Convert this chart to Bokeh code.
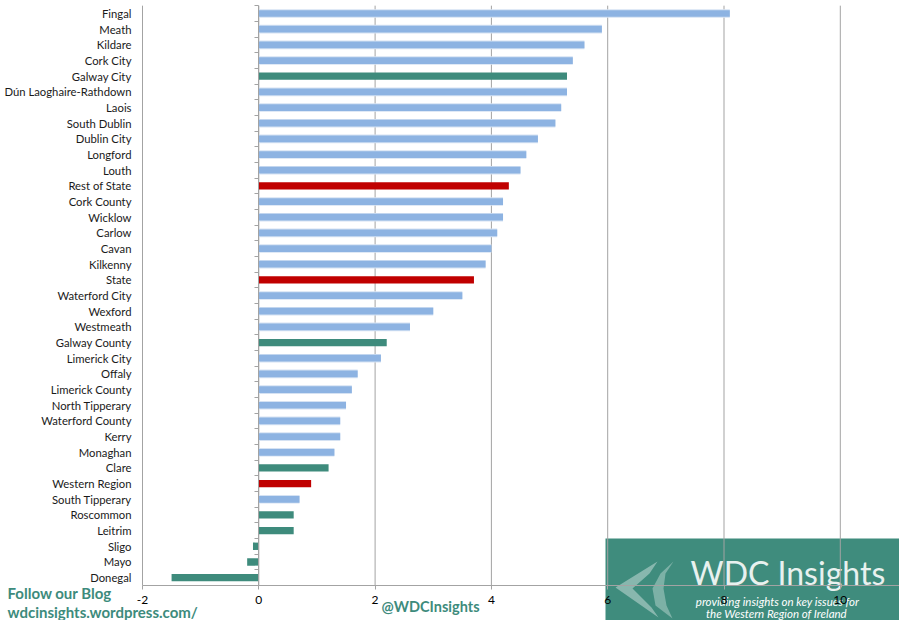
from bokeh.plotting import figure
from bokeh.models import (Range1d, FixedTicker, BoxAnnotation, Label, PolyAnnotation,
                          ColumnDataSource, LinearAxis)
from bokeh.embed import file_html
from bokeh.resources import INLINE

categories = ["Fingal", "Meath", "Kildare", "Cork City", "Galway City",
              "Dún Laoghaire-Rathdown", "Laois", "South Dublin", "Dublin City",
              "Longford", "Louth", "Rest of State", "Cork County", "Wicklow",
              "Carlow", "Cavan", "Kilkenny", "State", "Waterford City", "Wexford",
              "Westmeath", "Galway County", "Limerick City", "Offaly",
              "Limerick County", "North Tipperary", "Waterford County", "Kerry",
              "Monaghan", "Clare", "Western Region", "South Tipperary",
              "Roscommon", "Leitrim", "Sligo", "Mayo", "Donegal"]
values = [8.1, 5.9, 5.6, 5.4, 5.3, 5.3, 5.2, 5.1, 4.8, 4.6, 4.5, 4.3, 4.2, 4.2,
          4.1, 4.0, 3.9, 3.7, 3.5, 3.0, 2.6, 2.2, 2.1, 1.7, 1.6, 1.5, 1.4, 1.4,
          1.3, 1.2, 0.9, 0.7, 0.6, 0.6, -0.1, -0.2, -1.5]
western = ["Galway City", "Galway County", "Clare", "Roscommon", "Leitrim",
           "Sligo", "Mayo", "Donegal"]
totals = ["Rest of State", "State", "Western Region"]
x_ticks = [-2, 0, 2, 4, 6, 8, 10]

BLUE, BLUE_HALO, GREEN, RED = "#8DB3E2", "#D5E2F3", "#3E8B7C", "#C00000"
GRID = "#A3A3A3"
TEAL_TXT = "#3D8B7C"

W, H = 899, 620
N = len(categories)

# layout geometry (pixels in the canvas)
PX_X = 58.15          # pixels per x unit
X_LEFT_PX = 142       # canvas x of value -2
ROW_PX = 15.67        # pixels per category row
TOP_ROW_PX = 13       # canvas y of first row centre

x_start = -2 - X_LEFT_PX / PX_X
x_end = -2 + (W - X_LEFT_PX) / PX_X
y_end = (N - 1) + TOP_ROW_PX / ROW_PX
y_start = y_end - H / ROW_PX

p = figure(width=W, height=H, output_backend="svg", toolbar_location=None,
           x_range=Range1d(x_start, x_end), y_range=Range1d(y_start, y_end),
           min_border=0)
p.outline_line_color = None
p.background_fill_color = None
p.border_fill_color = "white"
p.xgrid.grid_line_color = None
p.ygrid.grid_line_color = None


def sx(rx):
    return rx


def sy(ry):
    return H - ry


# logo background (under everything)
p.add_layout(BoxAnnotation(left=sx(605), right=W, top=sy(538), bottom=0,
                           left_units="screen", right_units="screen",
                           top_units="screen", bottom_units="screen",
                           fill_color="#3F8C7D", fill_alpha=1.0, line_color=None,
                           level="image"))
chev_a = [(615, 587), (657, 561), (649, 573), (632, 588), (651, 607), (658, 617)]
chev_b = [(673, 561), (660, 573), (652, 588), (655, 605), (672, 618), (666, 605),
          (663, 588), (665, 573)]
for poly, a in ((chev_a, 0.38), (chev_b, 0.32)):
    p.add_layout(PolyAnnotation(xs=[sx(x) for x, _ in poly], ys=[sy(y) for _, y in poly],
                                xs_units="screen", ys_units="screen",
                                fill_color="white", fill_alpha=a, line_color=None,
                                level="image"))

# vertical gridlines
bottom_edge = -0.5
p.segment(x0=x_ticks, x1=x_ticks, y0=[bottom_edge] * len(x_ticks),
          y1=[N - 0.5] * len(x_ticks), line_color=GRID, line_width=1)

# x axis at the bottom of the bars
xa = p.xaxis[0]
xa.fixed_location = bottom_edge
xa.bounds = (-2, x_end)
xa.ticker = FixedTicker(ticks=x_ticks)
xa.major_label_overrides = {t: str(t) for t in x_ticks}
xa.axis_line_color = GRID
xa.major_tick_line_color = GRID
xa.major_tick_out = 4
xa.major_tick_in = 0
xa.minor_tick_line_color = None
xa.major_label_text_font = "Lato"
xa.major_label_text_font_size = "12px"
xa.major_label_text_color = "#000000"
xa.major_label_standoff = 7

# category labels (left of the -2 line)
ya = p.yaxis[0]
ya.fixed_location = -2
ya.ticker = FixedTicker(ticks=list(range(N)))
ya.major_label_overrides = {N - 1 - i: c for i, c in enumerate(categories)}
ya.axis_line_color = None
ya.major_tick_line_color = None
ya.major_tick_out = 0
ya.major_tick_in = 0
ya.minor_tick_line_color = None
ya.major_label_text_font = "Lato"
ya.major_label_text_font_size = "11.3px"
ya.major_label_text_color = "#1A1A1A"
ya.major_label_standoff = 11

# category axis line at x = 0 with ticks between categories
cat_axis = LinearAxis(fixed_location=0, bounds=(-0.5, N - 0.5),
                      ticker=FixedTicker(ticks=[k - 0.5 for k in range(N + 1)]),
                      axis_line_color=GRID, major_tick_line_color=GRID,
                      major_tick_out=4, major_tick_in=0, minor_tick_line_color=None,
                      major_label_text_color=None, major_label_text_font_size="1px")
p.add_layout(cat_axis, "left")

# bars
ypos = [N - 1 - i for i in range(N)]
colors = [RED if c in totals else GREEN if c in western else BLUE for c in categories]
blue_src = ColumnDataSource(dict(
    y=[y for y, col in zip(ypos, colors) if col == BLUE],
    val=[v for v, col in zip(values, colors) if col == BLUE]))
other_src = ColumnDataSource(dict(
    y=[y for y, col in zip(ypos, colors) if col != BLUE],
    val=[v for v, col in zip(values, colors) if col != BLUE],
    color=[col for col in colors if col != BLUE]))

p.hbar(y="y", left=0, right="val", height=0.55, source=blue_src,
       fill_color=BLUE_HALO, line_color=None)
p.hbar(y="y", left=0, right="val", height=0.43, source=blue_src,
       fill_color=BLUE, line_color=None)
p.hbar(y="y", left=0, right="val", height=0.47, source=other_src,
       fill_color="color", line_color=None)

# footer texts
p.add_layout(Label(x=sx(7), y=sy(592), x_units="screen", y_units="screen",
                   text="Follow our Blog", text_font="Lato", text_font_style="bold",
                   text_font_size="15px", text_color=TEAL_TXT, text_baseline="middle"))
p.add_layout(Label(x=sx(7), y=sy(611), x_units="screen", y_units="screen",
                   text="wdcinsights.wordpress.com/", text_font="Lato",
                   text_font_style="bold", text_font_size="15px", text_color=TEAL_TXT,
                   text_baseline="middle"))
p.add_layout(Label(x=sx(381), y=sy(606), x_units="screen", y_units="screen",
                   text="@WDCInsights", text_font="Lato", text_font_style="bold",
                   text_font_size="14.5px", text_color=TEAL_TXT, text_baseline="middle"))

# logo texts
p.add_layout(Label(x=sx(690), y=sy(572), x_units="screen", y_units="screen",
                   text="WDC Insights", text_font="Lato", text_font_size="32px",
                   text_color="#E8F1EF", text_baseline="middle", level="image"))
p.add_layout(Label(x=sx(777), y=sy(601), x_units="screen", y_units="screen",
                   text="providing insights on key issues for", text_font="Lato",
                   text_font_style="italic", text_font_size="11.5px", text_color="white",
                   text_align="center", text_baseline="middle", level="image"))
p.add_layout(Label(x=sx(776), y=sy(613), x_units="screen", y_units="screen",
                   text="the Western Region of Ireland", text_font="Lato",
                   text_font_style="italic", text_font_size="11.5px", text_color="white",
                   text_align="center", text_baseline="middle", level="image"))

open("out.html", "w").write(file_html(p, INLINE))
